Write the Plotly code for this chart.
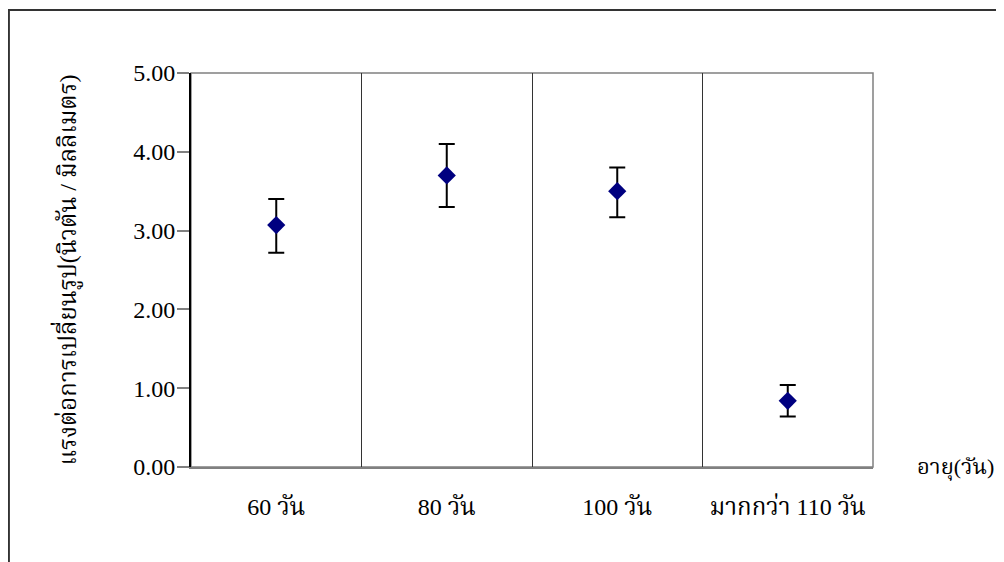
import plotly.graph_objects as go

categories = ["60 วัน", "80 วัน", "100 วัน", "มากกว่า 110 วัน"]
means = [3.07, 3.70, 3.50, 0.84]
err_plus = [0.33, 0.40, 0.30, 0.20]
err_minus = [0.35, 0.40, 0.33, 0.20]
y_ticks = [0, 1, 2, 3, 4, 5]
y_title = "แรงต่อการเปลี่ยนรูป(นิวตัน / มิลลิเมตร)"
x_title = "อายุ(วัน)"

FONT = "Liberation Serif, Times New Roman, Noto Serif Thai, Noto Sans Thai, serif"

fig = go.Figure()
fig.add_trace(go.Scatter(
    x=categories, y=means, mode="markers",
    marker=dict(symbol="diamond", size=14, color="#000080"),
    error_y=dict(type="data", symmetric=False, array=err_plus, arrayminus=err_minus,
                 color="black", thickness=2, width=8),
    showlegend=False,
))

fig.update_layout(
    width=996, height=554,
    margin=dict(l=183, r=131, t=65, b=95),
    paper_bgcolor="white", plot_bgcolor="white",
    font=dict(family=FONT, size=24, color="black"),
    xaxis=dict(
        type="category", tickson="boundaries", ticks="",
        showgrid=True, gridcolor="#333333", gridwidth=1,
        showline=True, linecolor="#808080", linewidth=2,
        ticklabelstandoff=17, range=[-0.5, 3.5],
        tickfont=dict(family=FONT, size=24),
    ),
    yaxis=dict(
        range=[0, 5], tickvals=y_ticks, tickformat=".2f",
        ticks="outside", ticklen=12, tickwidth=2, tickcolor="#808080",
        showgrid=False, zeroline=False,
        showline=True, linecolor="black", linewidth=2,
        ticklabelstandoff=-3,
        tickfont=dict(family=FONT, size=24),
        title=dict(text=y_title, font=dict(family=FONT, size=24), standoff=50),
    ),
    shapes=[
        dict(type="rect", xref="paper", yref="paper", x0=0, x1=1, y0=0, y1=1,
             line=dict(color="#808080", width=1.5), layer="below"),
        dict(type="rect", xref="paper", yref="paper", x0=-0.267, x1=1.3, y0=-0.3, y1=1.16,
             line=dict(color="#333333", width=2), layer="below"),
    ],
    annotations=[
        dict(text=x_title, xref="paper", yref="paper", x=1.121, y=0.0,
             showarrow=False, font=dict(family=FONT, size=22), xanchor="center", yanchor="middle"),
    ],
)

fig.write_html("out.html")
